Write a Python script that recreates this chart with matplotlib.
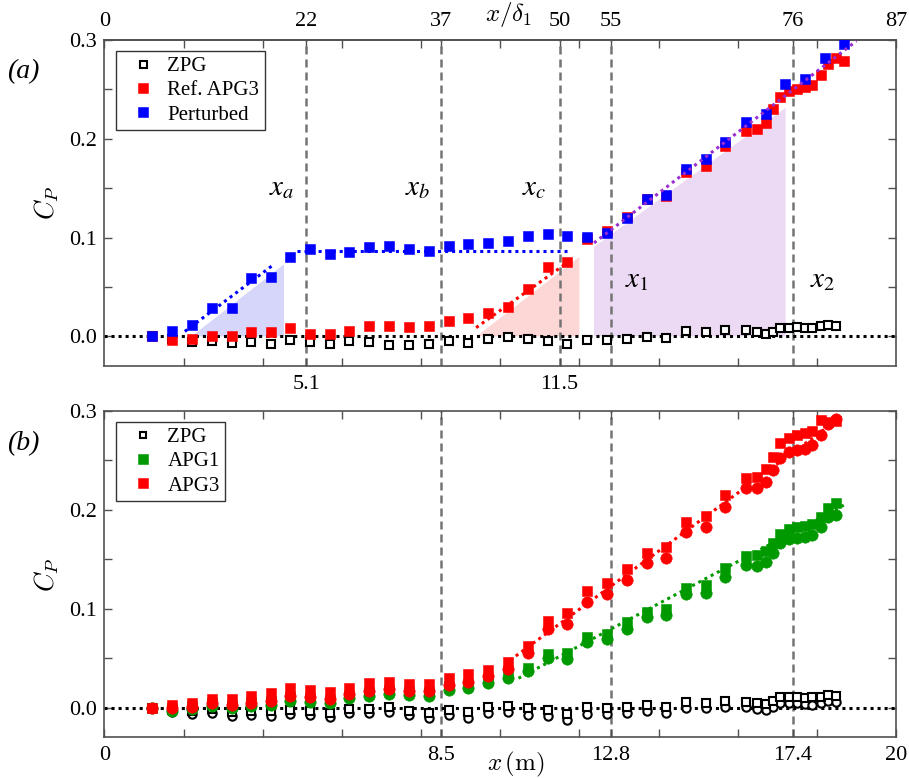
import numpy as np
import matplotlib
matplotlib.use("Agg")
import matplotlib.pyplot as plt
from matplotlib.ticker import FixedLocator, FixedFormatter

plt.rcParams['font.family'] = ['Liberation Serif', 'DejaVu Serif']
plt.rcParams['mathtext.fontset'] = 'stix'

# ---------------- measurement stations (x in m) ----------------
x_reg = [1.19, 1.70, 2.20, 2.71, 3.21, 3.70, 4.21, 4.70, 5.19, 5.70, 6.19, 6.68,
         7.19, 7.69, 8.20, 8.70, 9.19, 9.70, 10.20, 10.69, 11.20, 11.69, 12.20,
         12.70, 13.21, 13.70, 14.20, 14.69, 15.20, 15.69, 16.20]
x_dense = [16.49, 16.71, 16.90, 17.08, 17.29, 17.50, 17.70, 17.89, 18.10, 18.29, 18.49]
x_pert = x_reg + [16.71, 17.19, 17.70, 18.20, 18.69]
x_ref = x_reg + x_dense + [18.69]
x_all = x_reg + x_dense

# ---------------- panel (a) ----------------
cp_zpg_a = [0.0, -0.003, -0.0057, -0.0047, -0.0071, -0.006, -0.0078, -0.0034, -0.0057,
            -0.0078, -0.0044, -0.0057, -0.0088, -0.0091, -0.0081, -0.0051, -0.0071,
            -0.0027, -0.0003, -0.0024, -0.0051, -0.0081, -0.0037, -0.004, -0.0027,
            -0.0003, -0.002, 0.005, 0.0044, 0.006, 0.006,
            0.004, 0.002, 0.0047, 0.0084, 0.0088, 0.0091, 0.0088, 0.0088, 0.0101,
            0.0111, 0.0108]
cp_ref_apg3 = [0.0, -0.0034, -0.0024, 0.0007, 0.0, 0.004, 0.004, 0.0088, 0.0027, 0.002,
               0.0054, 0.0101, 0.0105, 0.0091, 0.0108, 0.0152, 0.0186, 0.0236, 0.0294,
               0.0476, 0.0702, 0.075, 0.099, 0.107, 0.121, 0.139, 0.142, 0.166, 0.1726,
               0.1928, 0.2077,
               0.2097, 0.2161, 0.230, 0.2425, 0.248, 0.250, 0.252, 0.254, 0.2648, 0.2756,
               0.2813, 0.2786]
cp_perturbed = [0.0, 0.005, 0.012, 0.029, 0.029, 0.059, 0.060, 0.080, 0.088, 0.083,
                0.085, 0.090, 0.0915, 0.0885, 0.0864, 0.091, 0.093, 0.0945, 0.097,
                0.1017, 0.1034, 0.1013, 0.1006, 0.1047, 0.120, 0.139, 0.143, 0.169,
                0.180, 0.197, 0.217, 0.2256, 0.255, 0.261, 0.282, 0.2955]

# linear trends drawn as dotted segments
fit_a_rise_x, fit_a_rise_y = [2.03, 4.22], [0.005, 0.071]
fit_a_flat_x, fit_a_flat_y = [4.86, 11.68], [0.0866, 0.0866]
fit_c_rise_x, fit_c_rise_y = [9.39, 11.75], [0.0088, 0.0762]
fit_1_rise_x, fit_1_rise_y = [12.37, 19.0], [0.0946, 0.299]

# shaded regions
shade_a_x, shade_a_y = [2.20, 4.535, 4.535], [0.0, 0.0729, 0.0]
shade_c_x, shade_c_y = [9.40, 12.0, 12.0], [0.0, 0.0804, 0.0]
shade_1_x, shade_1_y = [12.37, 12.37, 17.21, 17.21], [0.0, 0.0905, 0.2313, 0.0]

# ---------------- panel (b) ----------------
cp_zpg_sq = [0.0, -0.0024, -0.003, -0.0017, -0.004, -0.003, -0.0037, -0.0024, -0.003,
             -0.0057, -0.0017, -0.0013, 0.0003, -0.003, -0.0057, -0.002, -0.004, 0.001,
             0.0014, -0.0007, -0.002, -0.006, 0.0002, -0.0004, 0.001, 0.0027, 0.001,
             0.006, 0.005, 0.007, 0.006,
             0.0044, 0.0037, 0.007, 0.0104, 0.0104, 0.0104, 0.0094, 0.0104, 0.011,
             0.0128, 0.0118]
cp_zpg_ci = [0.0, -0.0047, -0.0064, -0.0057, -0.0081, -0.0078, -0.0084, -0.0064, -0.0071,
             -0.0098, -0.0057, -0.0057, -0.004, -0.0074, -0.0101, -0.0072, -0.0103,
             -0.0055, -0.004, -0.007, -0.0084, -0.0128, -0.0066, -0.0069, -0.005, -0.003,
             -0.0053, -0.0007, -0.0007, 0.001, 0.0003,
             -0.0017, -0.0024, 0.0003, 0.0044, 0.005, 0.0044, 0.0037, 0.0027, 0.005,
             0.0067, 0.0057]
cp_apg1_sq = [0.0, 0.0, 0.002, 0.005, 0.003, 0.006, 0.007, 0.011, 0.010, 0.008, 0.013,
              0.016, 0.018, 0.017, 0.016, 0.021, 0.024, 0.029, 0.034, 0.0398, 0.0539,
              0.055, 0.0711, 0.0745, 0.087, 0.097, 0.0994, 0.121, 0.124, 0.141, 0.153,
              0.154, 0.158, 0.1668, 0.176, 0.181, 0.183, 0.1837, 0.1857, 0.193, 0.2015,
              0.2066]
cp_apg1_ci = [0.0, -0.003, -0.0017, 0.0017, -0.0007, 0.0017, 0.0024, 0.0067, 0.0061,
              0.0044, 0.0094, 0.0118, 0.0138, 0.0125, 0.0118, 0.0174, 0.0195, 0.0246,
              0.0297, 0.0374, 0.0499, 0.0489, 0.0667, 0.0691, 0.080, 0.0913, 0.0937,
              0.1146, 0.116, 0.1325, 0.144,
              0.1436, 0.147, 0.1567, 0.166, 0.171, 0.172, 0.173, 0.1746, 0.183, 0.1924,
              0.1948]
cp_apg3_sq = [0.0, 0.0027, 0.0044, 0.0088, 0.0088, 0.0118, 0.0145, 0.0195, 0.0179,
              0.0158, 0.0202, 0.0246, 0.026, 0.0236, 0.0239, 0.0302, 0.034, 0.038,
              0.0465, 0.0624, 0.088, 0.0954, 0.118, 0.1257, 0.1405, 0.1567, 0.162,
              0.188, 0.194, 0.2147, 0.232,
              0.233, 0.241, 0.2538, 0.2676, 0.2725, 0.276, 0.2774, 0.2795, 0.291,
              0.2885, 0.2895]
cp_apg3_ci = [0.0, -0.0007, 0.0003, 0.0044, 0.0027, 0.005, 0.0071, 0.0118, 0.0104,
              0.0091, 0.0138, 0.0172, 0.0185, 0.0172, 0.0165, 0.0234, 0.0263, 0.032,
              0.0388, 0.055, 0.080, 0.0846, 0.107, 0.115, 0.129, 0.1466, 0.151, 0.178,
              0.183, 0.203, 0.2218,
              0.2218, 0.228, 0.2403, 0.252, 0.259, 0.261, 0.262, 0.2656, 0.2757, 0.2865,
              0.2915]
fit_apg3_x, fit_apg3_y = [10.25, 18.45], [0.048, 0.289]
fit_apg1_x, fit_apg1_y = [10.46, 18.68], [0.0297, 0.2048]

# ---------------- axis annotations ----------------
ticks_a_bottom = [5.1, 11.5]
ticks_a_top = [0, 5.1, 8.5, 11.5, 12.8, 17.4, 20]
labels_a_top = ['0', '22', '37', '50', '55', '76', '87']
ticks_b_bottom = [0, 8.5, 12.8, 17.4, 20]
minor_x = [2, 4, 6, 8, 10, 12, 14, 16, 18]
vlines_a = [5.1, 8.5, 11.5, 12.8, 17.4]
vlines_b = [8.5, 12.8, 17.4]

RED = '#ff0000'
BLUE = '#0000ff'
GREEN = '#009a00'
PURPLE = '#9a2ed0'
SPINE = '#505050'
DOT = (0, (1, 1.3))

fig = plt.figure(figsize=(9.09, 7.78), dpi=100)
ax_a = fig.add_axes([0.11496, 0.52956, 0.8707, 0.41902])
ax_b = fig.add_axes([0.11496, 0.05231, 0.8707, 0.41941])


def style_axes(ax):
    ax.set_xlim(0, 20)
    ax.set_ylim(-0.03, 0.3)
    ax.yaxis.set_major_locator(FixedLocator([0.0, 0.1, 0.2, 0.3]))
    ax.yaxis.set_major_formatter(FixedFormatter(['0.0', '0.1', '0.2', '0.3']))
    ax.yaxis.set_minor_locator(FixedLocator([0.05, 0.15, 0.25]))
    ax.xaxis.set_minor_locator(FixedLocator(minor_x))
    ax.tick_params(which='both', direction='in', length=5.8, width=1.0,
                   color=SPINE, labelsize=16, left=True, right=True,
                   top=True, bottom=True)
    ax.tick_params(axis='x', pad=6.5)
    ax.tick_params(axis='y', pad=5.5)
    for s in ax.spines.values():
        s.set_color(SPINE)
        s.set_linewidth(1.2)
    ax.axhline(0, color='black', lw=2.2, ls=DOT, zorder=2)


style_axes(ax_a)
style_axes(ax_b)

# panel (a) ticks
ax_a.xaxis.set_major_locator(FixedLocator(ticks_a_bottom))
ax_a.xaxis.set_major_formatter(FixedFormatter(['5.1', '11.5']))
sec = ax_a.secondary_xaxis('top')
sec.xaxis.set_major_locator(FixedLocator(ticks_a_top))
sec.xaxis.set_major_formatter(FixedFormatter(labels_a_top))
sec.xaxis.set_minor_locator(FixedLocator(minor_x))
sec.tick_params(which='both', direction='in', length=5.8, width=1.0, color=SPINE,
                labelsize=16, pad=6.5)
sec.spines['top'].set_color(SPINE)
sec.spines['top'].set_linewidth(1.2)
ax_a.tick_params(axis='x', which='both', top=False)

# panel (b) ticks
ax_b.xaxis.set_major_locator(FixedLocator(ticks_b_bottom))
ax_b.xaxis.set_major_formatter(FixedFormatter(['0', '8.5', '12.8', '17.4', '20']))

for ax, xs in ((ax_a, vlines_a), (ax_b, vlines_b)):
    for xv in xs:
        ax.axvline(xv, color='#747474', lw=1.8, dashes=(3.2, 2.0), zorder=1.5)

# ---- panel (a) content ----
ax_a.fill(shade_a_x, shade_a_y, color='#d5d6f9', lw=0, zorder=1)
ax_a.fill(shade_c_x, shade_c_y, color='#fdd6d6', lw=0, zorder=1)
ax_a.fill(shade_1_x, shade_1_y, color='#ecd9f3', lw=0, zorder=1)

ax_a.plot(x_all, cp_zpg_a, ls='none', marker='s', ms=5.6, mew=1.5, mec='black',
          mfc='white', zorder=3, label='ZPG')
ax_a.plot(x_ref, cp_ref_apg3, ls='none', marker='s', ms=7.3, mew=0.4, mec=RED,
          mfc=RED, zorder=4, label='Ref. APG3')
ax_a.plot(x_pert, cp_perturbed, ls='none', marker='s', ms=7.3, mew=0.4, mec=BLUE,
          mfc=BLUE, zorder=5, label='Perturbed')

ax_a.plot(fit_a_rise_x, fit_a_rise_y, color=BLUE, lw=2.2, ls=DOT, zorder=6)
ax_a.plot(fit_a_flat_x, fit_a_flat_y, color=BLUE, lw=2.2, ls=DOT, zorder=6)
ax_a.plot(fit_c_rise_x, fit_c_rise_y, color=RED, lw=2.2, ls=DOT, zorder=6)
ax_a.plot(fit_1_rise_x, fit_1_rise_y, color=PURPLE, lw=2.2, ls=DOT, zorder=6)

for txt, xp, yp in (('$x_a$', 4.48, 0.150), ('$x_b$', 7.92, 0.150),
                    ('$x_c$', 10.85, 0.150), (r'$x_{\mathit{1}}$', 13.45, 0.057),
                    (r'$x_{\mathit{2}}$', 18.14, 0.057)):
    ax_a.text(xp, yp, txt, fontsize=21, ha='center', va='center', zorder=7,
              math_fontfamily='stix')

# ---- panel (b) content ----
ax_b.plot(x_all, cp_zpg_ci, ls='none', marker='o', ms=6.0, mew=1.5, mec='black',
          mfc='white', zorder=3)
ax_b.plot(x_all, cp_zpg_sq, ls='none', marker='s', ms=5.2, mew=1.5, mec='black',
          mfc='white', zorder=3, label='ZPG')
ax_b.plot(x_all, cp_apg1_sq, ls='none', marker='s', ms=7.3, mew=0.4, mec=GREEN,
          mfc=GREEN, zorder=4, label='APG1')
ax_b.plot(x_all, cp_apg1_ci, ls='none', marker='o', ms=8.2, mew=0.4, mec=GREEN,
          mfc=GREEN, zorder=4)
ax_b.plot(x_all, cp_apg3_sq, ls='none', marker='s', ms=7.3, mew=0.4, mec=RED,
          mfc=RED, zorder=5, label='APG3')
ax_b.plot(x_all, cp_apg3_ci, ls='none', marker='o', ms=8.2, mew=0.4, mec=RED,
          mfc=RED, zorder=5)
ax_b.plot(fit_apg3_x, fit_apg3_y, color=RED, lw=2.2, ls=DOT, zorder=6)
ax_b.plot(fit_apg1_x, fit_apg1_y, color=GREEN, lw=2.2, ls=DOT, zorder=6)

# ---- legends ----
for ax in (ax_a, ax_b):
    leg = ax.legend(loc='upper left', bbox_to_anchor=(0.0145, 0.966),
                    borderaxespad=0, fontsize=15, fancybox=False, framealpha=1,
                    edgecolor='#333333', handlelength=2.05, handletextpad=0.15,
                    labelspacing=0.22, borderpad=0.27, markerscale=0.9)
    leg.get_frame().set_linewidth(1.0)

# ---- labels ----
for ax in (ax_a, ax_b):
    ax.text(-0.0725, 0.5, '$C_P$', transform=ax.transAxes, rotation=90,
            ha='center', va='center', fontsize=19, math_fontfamily='cm')
ax_a.text(0.51, 1.078, r'$x/\delta_1$', transform=ax_a.transAxes, ha='center',
          va='center', fontsize=18, math_fontfamily='cm')
ax_b.text(0.52, -0.083, r'$x\,(\mathrm{m})$', transform=ax_b.transAxes, ha='center',
          va='center', fontsize=18, math_fontfamily='cm')
fig.text(0.0253, 0.9075, '(a)', fontsize=20, style='italic', ha='center', va='center')
fig.text(0.0256, 0.4302, '(b)', fontsize=20, style='italic', ha='center', va='center')

fig.savefig('out.png', dpi=100)
